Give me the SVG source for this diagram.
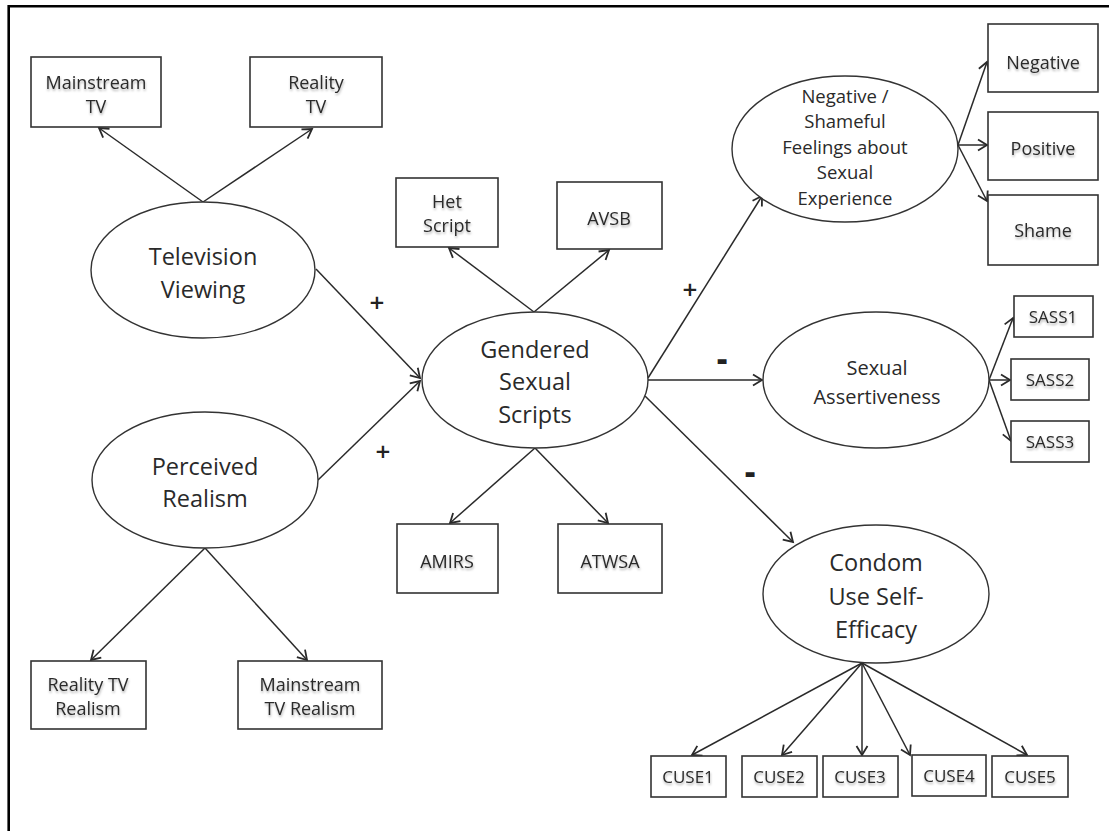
<svg xmlns="http://www.w3.org/2000/svg" width="1109" height="831" viewBox="0 0 1109 831">
<defs>
<style>
.box{fill:#fff;stroke:#333;stroke-width:1.6}
.ell{fill:#fff;stroke:#333;stroke-width:1.4}
.bt{font-family:"Open Sans","Liberation Sans",sans-serif;font-size:18px;fill:#2a2a2a;text-anchor:middle;filter:url(#sh)}
.st{font-family:"Open Sans","Liberation Sans",sans-serif;font-size:17px;fill:#2a2a2a;text-anchor:middle;filter:url(#sh)}
.et{font-family:"Open Sans","Liberation Sans",sans-serif;font-size:23.5px;fill:#2a2a2a;text-anchor:middle}
.nt{font-family:"Open Sans","Liberation Sans",sans-serif;font-size:18.5px;fill:#2a2a2a;text-anchor:middle}
.sa{font-family:"Open Sans","Liberation Sans",sans-serif;font-size:20px;fill:#2a2a2a;text-anchor:middle}
.sign{font-family:"Open Sans","Liberation Sans",sans-serif;font-size:26px;font-weight:600;fill:#222;text-anchor:middle}
.dash{font-family:"Open Sans","Liberation Sans",sans-serif;font-size:32px;font-weight:800;fill:#222;text-anchor:middle}
.c line{stroke:#2a2a2a;stroke-width:1.5;marker-end:url(#ah)}
</style>
<marker id="ah" markerUnits="userSpaceOnUse" markerWidth="14" markerHeight="14" viewBox="-11 -7 13 14" refX="0" refY="0" orient="auto">
<path d="M-9,-5.5 L0,0 L-9,5.5" fill="none" stroke="#2a2a2a" stroke-width="1.8"/>
</marker>
<filter id="sh" x="-20%" y="-40%" width="140%" height="200%">
<feDropShadow dx="0.5" dy="2" stdDeviation="1.2" flood-color="#000" flood-opacity="0.3"/>
</filter>
</defs>
<rect width="1109" height="831" fill="#fff"/>
<path d="M8.7,831 V6.2 H1109" fill="none" stroke="#000" stroke-width="2.6"/>

<g class="c" id="connectors">
<line x1="203" y1="202" x2="99" y2="128"/>
<line x1="203" y1="202" x2="312" y2="129"/>
<line x1="316" y1="269" x2="420" y2="378"/>
<line x1="318" y1="480" x2="420" y2="381"/>
<line x1="205" y1="548" x2="91" y2="660"/>
<line x1="205" y1="548" x2="307" y2="660"/>
<line x1="534" y1="312" x2="449" y2="248"/>
<line x1="534" y1="312" x2="609" y2="250"/>
<line x1="535" y1="448" x2="450" y2="523"/>
<line x1="535" y1="448" x2="608" y2="523"/>
<line x1="648" y1="378" x2="762" y2="196"/>
<line x1="648" y1="380" x2="762" y2="380"/>
<line x1="645" y1="396" x2="793" y2="542"/>
<line x1="958" y1="145" x2="987" y2="62"/>
<line x1="958" y1="145" x2="987" y2="145"/>
<line x1="958" y1="145" x2="987" y2="201"/>
<line x1="989" y1="380" x2="1013" y2="318"/>
<line x1="989" y1="380" x2="1010" y2="380"/>
<line x1="989" y1="380" x2="1011" y2="441"/>
<line x1="862" y1="663" x2="692" y2="755"/>
<line x1="862" y1="663" x2="782" y2="755"/>
<line x1="862" y1="663" x2="862" y2="755"/>
<line x1="862" y1="663" x2="910" y2="755"/>
<line x1="862" y1="663" x2="1027" y2="755"/>
</g>

<g id="signs">
<text class="sign" x="377" y="312">+</text>
<text class="sign" x="383" y="461">+</text>
<text class="sign" x="690" y="299">+</text>
<text class="dash" x="722" y="370">-</text>
<text class="dash" x="750" y="483">-</text>
</g>

<g id="mainstream-tv"><rect class="box" x="31" y="57" width="130" height="70"/><text class="bt" x="96" y="89">Mainstream</text><text class="bt" x="96" y="113">TV</text></g>
<g id="reality-tv"><rect class="box" x="250" y="57" width="132" height="70"/><text class="bt" x="316" y="89">Reality</text><text class="bt" x="316" y="113">TV</text></g>
<g id="television-viewing"><ellipse class="ell" cx="203" cy="270" rx="112" ry="68"/><text class="et" x="203" y="265">Television</text><text class="et" x="203" y="298">Viewing</text></g>
<g id="perceived-realism"><ellipse class="ell" cx="205" cy="480" rx="113" ry="68"/><text class="et" x="205" y="475">Perceived</text><text class="et" x="205" y="507">Realism</text></g>
<g id="reality-tv-realism"><rect class="box" x="31" y="661" width="115" height="68"/><text class="bt" x="88" y="691">Reality TV</text><text class="bt" x="88" y="715">Realism</text></g>
<g id="mainstream-tv-realism"><rect class="box" x="238" y="661" width="144" height="68"/><text class="bt" x="310" y="691">Mainstream</text><text class="bt" x="310" y="715">TV Realism</text></g>
<g id="het-script"><rect class="box" x="396" y="178" width="102" height="69"/><text class="bt" x="447" y="208">Het</text><text class="bt" x="447" y="232">Script</text></g>
<g id="avsb"><rect class="box" x="557" y="182" width="105" height="67"/><text class="bt" x="609" y="225">AVSB</text></g>
<g id="gendered-sexual-scripts"><ellipse class="ell" cx="535" cy="380" rx="113" ry="68"/><text class="et" x="535" y="358">Gendered</text><text class="et" x="535" y="390">Sexual</text><text class="et" x="535" y="423">Scripts</text></g>
<g id="amirs"><rect class="box" x="397" y="524" width="101" height="69"/><text class="bt" x="447" y="568">AMIRS</text></g>
<g id="atwsa"><rect class="box" x="558" y="524" width="104" height="69"/><text class="bt" x="610" y="568">ATWSA</text></g>
<g id="negative-shameful-feelings"><ellipse class="ell" cx="845" cy="149" rx="113" ry="73"/>
<text class="nt" x="845" y="103">Negative /</text><text class="nt" x="845" y="128">Shameful</text><text class="nt" x="845" y="154">Feelings about</text><text class="nt" x="845" y="179">Sexual</text><text class="nt" x="845" y="205">Experience</text></g>
<g id="negative"><rect class="box" x="988" y="24" width="110" height="68"/><text class="bt" x="1043" y="69">Negative</text></g>
<g id="positive"><rect class="box" x="988" y="112" width="110" height="68"/><text class="bt" x="1043" y="155">Positive</text></g>
<g id="shame"><rect class="box" x="988" y="195" width="110" height="70"/><text class="bt" x="1043" y="237">Shame</text></g>
<g id="sexual-assertiveness"><ellipse class="ell" cx="876" cy="380" rx="113" ry="68"/><text class="sa" x="877" y="375">Sexual</text><text class="sa" x="877" y="404">Assertiveness</text></g>
<g id="sass1"><rect class="box" x="1014" y="296" width="79" height="41"/><text class="st" x="1053" y="323">SASS1</text></g>
<g id="sass2"><rect class="box" x="1011" y="359" width="78" height="41"/><text class="st" x="1050" y="386">SASS2</text></g>
<g id="sass3"><rect class="box" x="1011" y="421" width="78" height="41"/><text class="st" x="1050" y="448">SASS3</text></g>
<g id="condom-use-self-efficacy"><ellipse class="ell" cx="876" cy="594" rx="113" ry="69"/><text class="et" x="876" y="571">Condom</text><text class="et" x="876" y="605">Use Self-</text><text class="et" x="876" y="638">Efficacy</text></g>
<g id="cuse1"><rect class="box" x="651" y="756" width="75" height="41"/><text class="st" x="688" y="783">CUSE1</text></g>
<g id="cuse2"><rect class="box" x="742" y="756" width="75" height="41"/><text class="st" x="779" y="783">CUSE2</text></g>
<g id="cuse3"><rect class="box" x="823" y="756" width="75" height="41"/><text class="st" x="860" y="783">CUSE3</text></g>
<g id="cuse4"><rect class="box" x="912" y="755" width="74" height="41"/><text class="st" x="949" y="782">CUSE4</text></g>
<g id="cuse5"><rect class="box" x="992" y="756" width="76" height="41"/><text class="st" x="1030" y="783">CUSE5</text></g>
</svg>
